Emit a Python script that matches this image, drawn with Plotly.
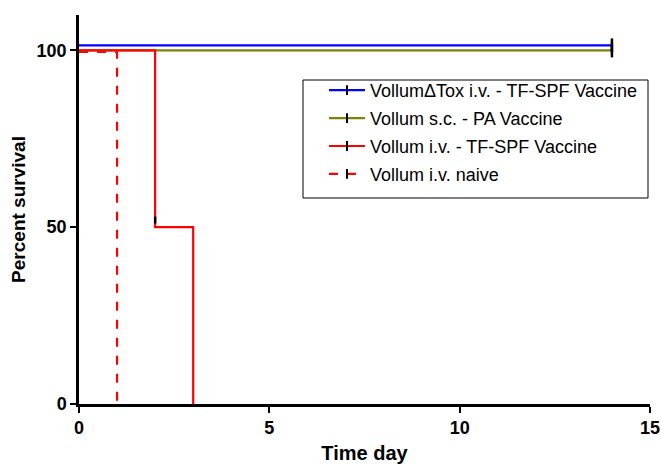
import plotly.graph_objects as go

# Data (survival curves, step functions)
names = ["Vollum\u0394Tox i.v. - TF-SPF Vaccine", "Vollum s.c. - PA Vaccine",
         "Vollum i.v. - TF-SPF Vaccine", "Vollum i.v. naive"]
colors = ["#0000FF", "#808000", "#FF0000", "#FF0000"]
dashes = ["solid", "solid", "solid", "dash"]

blue_x = [0, 14]
blue_y = [100, 100]
olive_x = [0, 14]
olive_y = [100, 100]
red_x = [0, 2, 3]
red_y = [100, 50, 0]
naive_x = [0, 1]
naive_y = [100, 0]
# censor marks
blue_cx, blue_cy = [14], [100]
olive_cx, olive_cy = [14], [100]
red_cx, red_cy = [2], [50]

x_ticks = [0, 5, 10, 15]
y_ticks = [0, 50, 100]

# visual offsets (GraphPad-style nudging of overlapping lines)
blue_off = 1.4
naive_off = -0.4

fig = go.Figure()

def add_line(x, y, color, dash, off):
    fig.add_trace(go.Scatter(x=x, y=[v + off for v in y], mode="lines",
                             line=dict(color=color, width=2.2, shape="hv", dash=dash),
                             showlegend=False, hoverinfo="skip"))

def add_censor(cx, cy, off, size):
    fig.add_trace(go.Scatter(x=cx, y=[v + off for v in cy], mode="markers",
                             marker=dict(symbol="line-ns", size=size, line=dict(color="black", width=2.5)),
                             showlegend=False, hoverinfo="skip"))

# drawing order: naive at bottom, blue on top
add_line(naive_x, naive_y, colors[3], dashes[3], naive_off)
add_line(olive_x, olive_y, colors[1], dashes[1], 0)
add_line(red_x, red_y, colors[2], dashes[2], 0)
add_line(blue_x, blue_y, colors[0], dashes[0], blue_off)
add_censor(olive_cx, olive_cy, 0, 10)
add_censor(blue_cx, blue_cy, blue_off, 10)
add_censor(red_cx, red_cy, 2.0, 5)

# legend entries (line sample + censor tick)
for i, (n, c, d) in enumerate(zip(names, colors, dashes)):
    fig.add_trace(go.Scatter(x=[None], y=[None], mode="lines+markers", name=n,
                             line=dict(color=c, width=2.2, dash=d),
                             marker=dict(symbol="line-ns", size=7, color="black",
                                         line=dict(color="black", width=2)),
                             legendrank=i + 1, legendgroup=str(i), showlegend=True))

L, R, T, B = 79, 11, 15, 60
PW = 661 - L - R
PH = 464 - T - B
def px_x(p):
    return (p - L) / PW
def px_y(p):
    return (464 - B - p) / PH

fig.add_shape(type="rect", xref="paper", yref="paper",
              x0=px_x(303), x1=px_x(648), y0=px_y(198), y1=px_y(80),
              line=dict(color="black", width=1), fillcolor="rgba(0,0,0,0)", layer="above")

fig.update_layout(
    width=661, height=464,
    margin=dict(l=L, r=R, t=T, b=B),
    plot_bgcolor="white", paper_bgcolor="white",
    font=dict(family="Liberation Sans", color="black"),
    showlegend=True,
    legend=dict(x=px_x(324), y=px_y(72), xanchor="left", yanchor="top",
                borderwidth=0, bgcolor="rgba(0,0,0,0)",
                font=dict(size=18, family="Liberation Sans"),
                traceorder="grouped", tracegroupgap=1.5, itemwidth=36),
    xaxis=dict(range=[0, 15], tickvals=x_ticks, ticktext=[str(t) for t in x_ticks],
               showline=True, linecolor="black", linewidth=2.5, ticks="outside", ticklen=6,
               tickwidth=2, tickcolor="black", showgrid=False, zeroline=False, automargin=False,
               tickfont=dict(size=18, family="Liberation Sans", weight="bold"),
               title=dict(text="<b>Time day</b>", font=dict(size=20, family="Liberation Sans"), standoff=12)),
    yaxis=dict(range=[0, 110], tickvals=y_ticks, ticktext=[str(t) for t in y_ticks],
               showline=True, linecolor="black", linewidth=2.5, ticks="outside", ticklen=6,
               tickwidth=2, tickcolor="black", showgrid=False, zeroline=False, automargin=False,
               tickfont=dict(size=18, family="Liberation Sans", weight="bold"),
               title=dict(text="<b>Percent survival</b>", font=dict(size=19, family="Liberation Sans"), standoff=6)),
)

fig.write_html("out.html", config={"displayModeBar": False},
               post_script="document.body.style.margin='0px';")
